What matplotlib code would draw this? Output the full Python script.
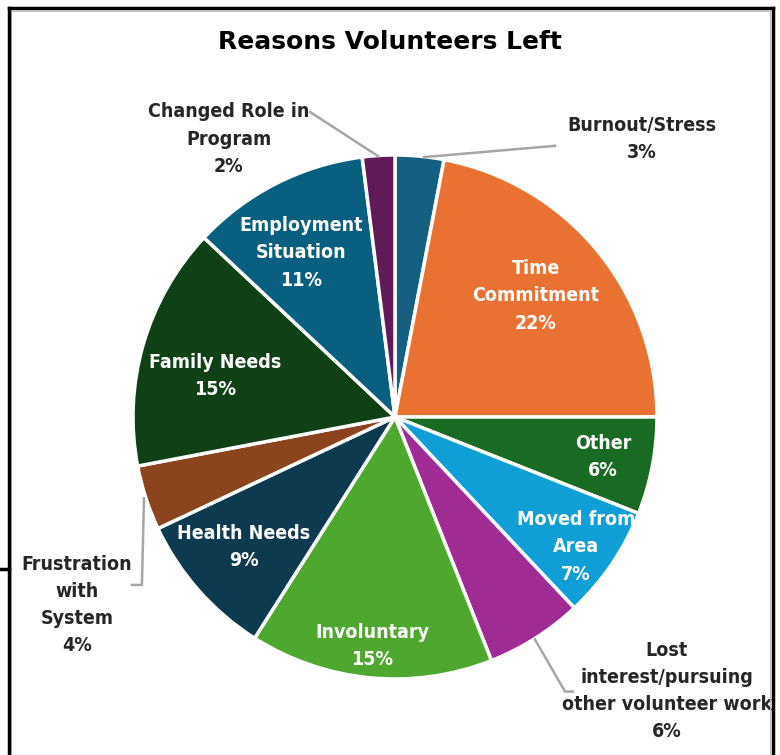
import matplotlib.pyplot as plt
from matplotlib.lines import Line2D

# data
reasons = ['Burnout/Stress', 'Time\nCommitment', 'Other', 'Moved from\nArea',
           'Lost\ninterest/pursuing\nother volunteer work', 'Involuntary',
           'Health Needs', 'Frustration\nwith\nSystem', 'Family Needs',
           'Employment\nSituation', 'Changed Role in\nProgram']
percents = [3, 22, 6, 7, 6, 15, 9, 4, 15, 11, 2]

colors = ['#156082', '#E97132', '#196B24', '#0F9ED5', '#A02B93', '#4EA72E',
          '#0D3A4E', '#8C441E', '#0F4016', '#095F80', '#601A58']

# label placement (pie data coords, radius 1) and whether label sits inside
label_pos = [(0.943, 1.061), (0.538, 0.462), (0.794, -0.153), (0.691, -0.496),
             (1.038, -1.046), (-0.088, -0.874), (-0.576, -0.496), (-1.214, -0.718),
             (-0.687, 0.156), (-0.359, 0.626), (-0.634, 1.061)]
inside = [False, True, True, True, False, True, True, False, True, True, False]
leaders = {
    0: [(0.111, 0.992), (0.611, 1.035)],
    10: [(-0.065, 0.996), (-0.324, 1.164)],
    4: [(0.534, -0.849), (0.649, -1.048), (0.679, -1.048)],
    7: [(-0.958, -0.31), (-0.966, -0.641), (-1.004, -0.641)],
}

plt.rcParams['font.family'] = ['DejaVu Sans']

fig = plt.figure(figsize=(7.8, 7.55), dpi=100)
ax = fig.add_axes([0.1705, 0.1007, 0.6718, 0.694])
ax.pie(percents, colors=colors, startangle=90, counterclock=False, radius=1,
       wedgeprops=dict(edgecolor='white', linewidth=2.5))
ax.set_xlim(-1, 1)
ax.set_ylim(-1, 1)
ax.axis('off')

for i, (name, p) in enumerate(zip(reasons, percents)):
    x, y = label_pos[i]
    ax.text(x, y, f'{name}\n{p}%', ha='center', va='center', fontsize=14,
            fontweight='bold', fontstretch='condensed', linespacing=1.55,
            color='white' if inside[i] else '#262626', clip_on=False)

for pts in leaders.values():
    xs, ys = zip(*pts)
    ax.plot(xs, ys, color='#A6A6A6', lw=1.8, clip_on=False)

fig.text(0.5, 0.945, 'Reasons Volunteers Left', ha='center', va='center',
         fontsize=18, fontweight='bold', color='black')

# chart frame (black outer edge with a thin grey inner line)
fig.add_artist(Line2D([0.0145, 0.0145, 0.9875, 0.9875], [0, 0.9855, 0.9855, 0],
                      color='#BFBFBF', lw=0.8))
for xs, ys in [([0.011, 0.011], [0, 0.99]), ([0.011, 0.991], [0.99, 0.99]),
               ([0.991, 0.991], [0, 0.99]), ([0, 0.011], [0.247, 0.247])]:
    fig.add_artist(Line2D(xs, ys, color='black', lw=2.5))

fig.savefig('out.png', dpi=100)
